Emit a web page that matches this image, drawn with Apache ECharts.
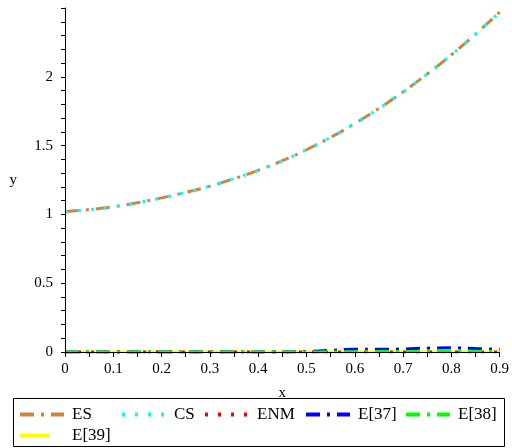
<!DOCTYPE html>
<html>
<head>
<meta charset="utf-8">
<script src="https://cdn.jsdelivr.net/npm/echarts@6/dist/echarts.min.js"></script>
<style>
  html, body { margin: 0; padding: 0; background: #fff; }
  #chart { width: 512px; height: 448px; }
</style>
</head>
<body>
<div id="chart"></div>
<script>
// x grid shared by all series
const xs = [0, 0.05, 0.1, 0.15, 0.2, 0.25, 0.3, 0.35, 0.4, 0.45, 0.5, 0.55, 0.6, 0.65, 0.7, 0.75, 0.8, 0.85, 0.9];

// exact and computed solution
const esVals = [1.02, 1.035, 1.055, 1.085, 1.12, 1.16, 1.205, 1.26, 1.32, 1.39, 1.47, 1.56, 1.66, 1.77, 1.89, 2.02, 2.16, 2.31, 2.47];
const csVals = [1.02, 1.035, 1.055, 1.085, 1.12, 1.16, 1.205, 1.26, 1.32, 1.39, 1.47, 1.56, 1.66, 1.77, 1.89, 2.02, 2.16, 2.31, 2.47];

// error curves, all close to zero
const enmVals = [0, 0, 0, 0, 0, 0, 0, 0, 0, 0, 0, 0, 0, 0, 0, 0, 0, 0, 0];
const e37Vals = [0, 0, 0, 0, 0, 0, 0, 0, 0, 0, 0.004, 0.012, 0.02, 0.02, 0.022, 0.028, 0.03, 0.025, 0.02];
const e38Vals = [0, 0, 0, 0, 0, 0, 0, 0, 0, 0, 0, 0.002, 0.003, 0.004, 0.004, 0.005, 0.005, 0.005, 0.004];
const e39Vals = [0, 0, 0, 0, 0, 0, 0, 0, 0, 0, 0, 0, 0, 0, 0, 0, 0, 0, 0];

const FONT = 'Liberation Serif';

function pairs(vals) {
    return xs.map((x, i) => [x, vals[i]]);
}

function lineSeries(name, vals, color, type, z) {
    return {
        name: name,
        type: 'line',
        data: pairs(vals),
        smooth: true,
        symbol: 'none',
        z: z,
        lineStyle: { color: color, width: 3, type: type },
        itemStyle: { color: color }
    };
}

// one legend per item so they sit where Maple put them
function legendItem(name, left, top, w, pad) {
    return {
        data: [name],
        left: left,
        top: top,
        padding: 0,
        itemWidth: w,
        itemHeight: 14,
        selectedMode: false,
        itemStyle: { opacity: 0 },
        lineStyle: { width: 4 },
        textStyle: { fontFamily: FONT, fontSize: 17, color: '#000', padding: [0, 0, 0, pad] }
    };
}

const chart = echarts.init(document.getElementById('chart'));

chart.setOption({
    animation: false,
    textStyle: { fontFamily: FONT },
    grid: { left: 65, right: 9, top: 8, bottom: 96 },
    xAxis: {
        type: 'value',
        min: 0,
        max: 0.9,
        interval: 0.05,
        z: 5,
        name: 'x',
        nameLocation: 'middle',
        nameGap: 34,
        nameTextStyle: { fontFamily: FONT, fontSize: 15, color: '#000' },
        axisLine: { lineStyle: { color: '#000', width: 1 } },
        axisTick: { length: 5, lineStyle: { color: '#000' } },
        axisLabel: {
            margin: 10,
            fontFamily: FONT, fontSize: 15, color: '#000',
            formatter: v => (Math.abs(v * 10 - Math.round(v * 10)) < 1e-6) ? String(Math.round(v * 10) / 10) : ''
        },
        splitLine: { show: false }
    },
    yAxis: {
        type: 'value',
        min: 0,
        max: 2.5,
        interval: 0.1,
        z: 5,
        name: 'y',
        nameLocation: 'middle',
        nameRotate: 0,
        nameGap: 48,
        nameTextStyle: { fontFamily: FONT, fontSize: 15, color: '#000' },
        axisLine: { show: true, lineStyle: { color: '#000', width: 1 } },
        axisTick: { show: true, length: 4, lineStyle: { color: '#000' } },
        axisLabel: {
            margin: 12,
            fontFamily: FONT, fontSize: 15, color: '#000',
            formatter: v => {
                const k = Math.round(v * 10);
                if (Math.abs(v * 10 - k) > 1e-6 || k % 5 !== 0 || k > 20) return '';
                return String(k / 10);
            }
        },
        splitLine: { show: false }
    },
    legend: [
        legendItem('ES', 18, 406, 44, 3),
        legendItem('CS', 120, 406, 44, 3),
        legendItem('ENM', 203, 406, 44, 3),
        legendItem('E[37]', 304, 406, 44, 3),
        legendItem('E[38]', 404, 406, 44, 3),
        legendItem('E[39]', 18, 427, 30, 17)
    ],
    graphic: [{
        type: 'rect',
        shape: { x: 13.5, y: 398.5, width: 491, height: 48 },
        style: { fill: 'none', stroke: '#000', lineWidth: 1 },
        silent: true
    }],
    series: [
        lineSeries('ES', esVals, '#cd853f', [14, 7, 3, 7], 3),
        lineSeries('CS', csVals, '#00ffff', [3, 10], 4),
        lineSeries('ENM', enmVals, '#ff0000', [3, 10], 3),
        lineSeries('E[37]', e37Vals, '#0000ff', [14, 7, 3, 7], 3),
        lineSeries('E[38]', e38Vals, '#00ff00', [14, 7, 3, 7], 3),
        lineSeries('E[39]', e39Vals, '#ffff00', 'solid', 2)
    ]
});
</script>
</body>
</html>
